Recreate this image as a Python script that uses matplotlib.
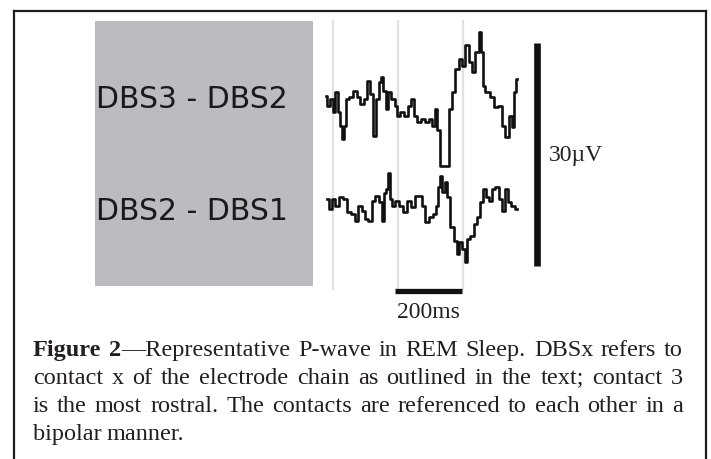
import matplotlib.pyplot as plt
from matplotlib.lines import Line2D
from matplotlib.patches import Rectangle

# time (ms) and amplitude (uV)
t_top = [0, 6, 18, 21, 33, 36, 45, 51, 57, 63, 72, 87, 96, 108, 117, 126, 135, 144,
         153, 162, 168, 174, 183, 189, 201, 210, 216, 228, 240, 249, 261, 267, 276,
         291, 303, 315, 321, 330, 336, 348, 363, 372, 381, 393, 402, 411, 423, 432,
         441, 453, 462, 468, 471, 483, 498, 507, 522, 531, 543, 552, 561, 567, 573]
v_top = [0.4, -0.9, 0.0, -1.8, 0.9, -1.8, -3.6, -5.4, -3.6, 0.0, 0.3, 1.1, 0.3, -0.7,
         0.0, 2.4, 0.7, -5.0, 0.0, 2.3, 3.0, 1.1, -1.4, 0.9, 0.0, -0.9, -2.3, -1.8,
         -2.3, -0.9, 0.0, -2.3, -3.1, -2.7, -3.1, -2.7, -3.6, -1.4, -4.1, -9.0, -9.0,
         -1.4, 0.9, 4.1, 5.4, 4.5, 7.2, 5.0, 3.6, 6.3, 9.0, 6.3, 1.8, 0.9, 0.3, -1.1,
         -0.9, -3.6, -5.1, -2.3, -3.8, 0.9, 2.7]

t_bot = [3, 12, 21, 33, 42, 57, 66, 81, 90, 102, 111, 120, 132, 141, 153, 162, 171,
         177, 183, 189, 195, 201, 213, 222, 237, 249, 261, 270, 282, 291, 303, 312,
         327, 333, 339, 345, 351, 360, 366, 378, 387, 396, 402, 411, 420, 426, 438,
         447, 456, 468, 474, 483, 492, 501, 513, 522, 531, 540, 549, 561, 573]
v_bot = [0.7, -0.7, 0.7, -0.3, 0.9, 0.7, -1.1, -1.4, -2.3, -0.3, -0.9, -2.0, -2.3,
         0.4, 1.1, 0.3, -2.3, 1.4, 2.0, 4.1, 0.7, -0.3, 0.4, -0.3, -1.1, 0.4, -0.4,
         1.1, 1.1, -0.3, -2.4, -1.8, -1.4, -0.3, 2.3, 3.8, 1.6, 3.0, 0.9, -3.1, -5.0,
         -6.8, -5.1, -6.1, -7.8, -4.7, -4.3, -2.7, -1.8, 0.3, 2.0, 0.9, 0.4, 2.0, 2.3,
         0.7, -0.9, 2.0, 0.3, -0.3, -0.7]

channel_labels = ["DBS3 - DBS2", "DBS2 - DBS1"]
channel_offset = [0.0, -14.1]
grid_ms = [20, 215, 410]
time_bar = [207, 407]      # 200 ms
amp_bar = [7.5, -22.5]     # 30 uV

caption = [
    "*Figure* *2*—Representative P-wave in REM Sleep. DBSx refers to",
    "contact x of the electrode chain as outlined in the text; contact 3",
    "is the most rostral. The contacts are referenced to each other in a",
    "bipolar manner.",
]

W, H = 711, 460
fig = plt.figure(figsize=(W / 100, H / 100), dpi=100)
fig.patch.set_facecolor("white")

# outer frame (open at the bottom)
for xs, ys in [([13.5, 13.5], [H, 12]), ([13.5, 706], [12, 12]), ([706, 706], [12, H])]:
    fig.add_artist(Line2D([x / W for x in xs], [1 - y / H for y in ys],
                          transform=fig.transFigure, color="#1c1c1c", lw=1.6))

# grey label panel
fig.add_artist(Rectangle((95 / W, 1 - 287 / H), 218 / W, 265 / H,
                         transform=fig.transFigure, color="#bcbcc0", lw=0))
for lab, base in zip(channel_labels, [108, 220]):
    fig.text(96 / W, 1 - base / H, lab, family="DejaVu Sans", fontsize=21.5,
             color="#1a1a1a", va="baseline", ha="left")

# data axes: ms horizontally, uV vertically
ax = fig.add_axes([0, 0, 1, 1])
ax.set_xlim(-978, 1155)
ax.set_ylim(-48.4, 13.45)
ax.axis("off")

for g in grid_ms:
    ax.plot([g, g], [10.5, -25.5], color="#e2e2e2", lw=1.6, zorder=1)

for t, v, off in [(t_top, v_top, channel_offset[0]), (t_bot, v_bot, channel_offset[1])]:
    ax.plot(t, [val + off for val in v], color="#111111", lw=1.9,
            drawstyle="steps-mid", zorder=3)

ax.plot(time_bar, [-25.8, -25.8], color="#111111", lw=3.8, solid_capstyle="butt")
ax.text(sum(time_bar) / 2, -28.6, "200ms", family="Liberation Serif", fontsize=17,
        ha="center", va="center", color="#222222")
ax.plot([633, 633], amp_bar, color="#111111", lw=4.8, solid_capstyle="butt")
ax.text(670, sum(amp_bar) / 2, "30\u00b5V", family="Liberation Serif", fontsize=17,
        ha="left", va="center", color="#222222")

# justified caption
renderer = fig.canvas.get_renderer()
left, right = 33, 683
for li, (line, base) in enumerate(zip(caption, [356, 384, 412, 440])):
    words = []
    for w in line.split(" "):
        parts = []
        for k, piece in enumerate(w.split("*")):
            if piece:
                t = fig.text(0, 1 - base / H, piece, family="Liberation Serif",
                             fontsize=17.5, weight="bold" if k % 2 else "normal",
                             color="#231f20", va="baseline", ha="left")
                parts.append((t, t.get_window_extent(renderer).width))
        words.append(parts)
    widths = [sum(p[1] for p in parts) for parts in words]
    if li < len(caption) - 1:
        gap = (right - left - sum(widths)) / (len(words) - 1)
    else:
        gap = 5.0
    x = left
    for parts, wd in zip(words, widths):
        xx = x
        for t, pw in parts:
            t.set_x(xx / W)
            xx += pw
        x += wd + gap

fig.savefig("out.png", dpi=100, facecolor="white")
